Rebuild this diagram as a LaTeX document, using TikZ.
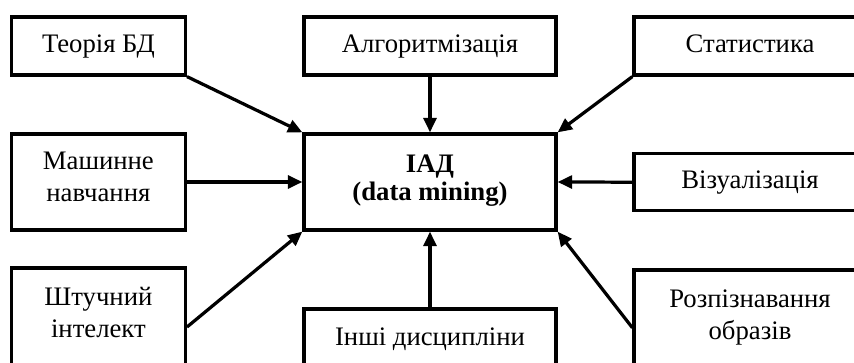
\documentclass[tikz,border=0pt]{standalone}
\usepackage{fontspec}
\setmainfont{Liberation Serif}
\usetikzlibrary{arrows.meta}
\begin{document}
\begin{tikzpicture}[
    box/.style={draw, line width=2.3pt, align=center, inner sep=0pt,
      font=\fontsize{19}{22.7}\selectfont,
      execute at begin node=\strut, execute at end node=\strut},
    leftbox/.style={box, minimum width=4.35cm},
    midbox/.style={box, minimum width=6.3cm},
    rightbox/.style={box, minimum width=5.8cm},
    link/.style={line width=2.3pt, -{Triangle[length=0.36cm,width=0.32cm]}}
  ]
        \useasboundingbox (0,0) rectangle (21.35,9.075);
        \clip (0,0) rectangle (21.35,9.075);
        %% Boxes
        \node[leftbox, minimum height=1.45cm] (teoria) at (2.46,7.925) {Теорія БД};
        \node[midbox, minimum height=1.45cm] (algo) at (10.75,7.925) {Алгоритмізація};
        \node[rightbox, minimum height=1.45cm] (stat) at (18.75,7.925) {Статистика};
        \node[leftbox, minimum height=2.4cm] (mash) at (2.46,4.525) {Машинне\\навчання};
        \node[midbox, minimum height=2.4cm, font=\fontsize{19}{20.5}\selectfont\bfseries] (iad) at (10.75,4.525) {ІАД\\(data mining)};
        \node[rightbox, minimum height=1.42cm] (viz) at (18.75,4.52) {Візуалізація};
        \node[leftbox, minimum height=2.45cm] (shtuch) at (2.46,1.15) {Штучний\\інтелект};
        \node[midbox, minimum height=1.5cm] (inshi) at (10.75,0.6) {Інші дисципліни};
        \node[rightbox, minimum height=2.45cm] (rozp) at (18.75,1.1) {Розпізнавання\\образів};
        %% Arrows
        \draw[link] (teoria.south east) -- (iad.north west);
        \draw[link] (algo.south) -- (iad.north);
        \draw[link] (stat.south west) -- (iad.north east);
        \draw[link] (mash.east) -- (iad.west);
        \draw[link] (viz.west) -- (iad.east);
        \draw[link] ([yshift=-0.25cm]shtuch.east) -- (iad.south west);
        \draw[link] (inshi.north) -- (iad.south);
        \draw[link] ([yshift=-0.22cm]rozp.west) -- (iad.south east);
\end{tikzpicture}
\end{document}
